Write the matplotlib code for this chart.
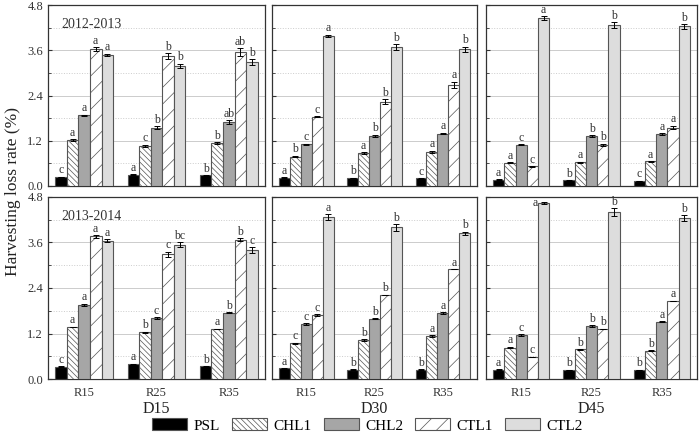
import numpy as np
import matplotlib.pyplot as plt
from matplotlib.ticker import MultipleLocator
from matplotlib.patches import Patch

plt.rcParams['font.family'] = ['Liberation Serif', 'DejaVu Serif']
plt.rcParams['hatch.linewidth'] = 0.5
plt.rcParams['hatch.color'] = '#444444'

groups = ['R15', 'R25', 'R35']
treatments = ['PSL', 'CHL1', 'CHL2', 'CTL1', 'CTL2']
dates = ['D15', 'D30', 'D45']
seasons = ['2012-2013', '2013-2014']
yticks = [0.0, 1.2, 2.4, 3.6, 4.8]

# rows: R15, R25, R35 ; columns: PSL, CHL1, CHL2, CTL1, CTL2
y12_d15 = [[0.24, 1.22, 1.87, 3.63, 3.48], [0.30, 1.07, 1.54, 3.45, 3.18], [0.28, 1.14, 1.70, 3.55, 3.29]]
y12_d30 = [[0.22, 0.78, 1.11, 1.84, 3.98], [0.21, 0.87, 1.33, 2.24, 3.68], [0.20, 0.91, 1.39, 2.69, 3.62]]
y12_d45 = [[0.17, 0.62, 1.10, 0.52, 4.46], [0.15, 0.63, 1.32, 1.09, 4.27], [0.13, 0.65, 1.38, 1.55, 4.23]]
y13_d15 = [[0.32, 1.37, 1.96, 3.76, 3.64], [0.39, 1.23, 1.60, 3.29, 3.54], [0.33, 1.32, 1.75, 3.67, 3.40]]
y13_d30 = [[0.28, 0.94, 1.45, 1.68, 4.27], [0.25, 1.03, 1.59, 2.22, 4.00], [0.25, 1.14, 1.74, 2.90, 3.84]]
y13_d45 = [[0.25, 0.83, 1.16, 0.59, 4.64], [0.24, 0.78, 1.40, 1.33, 4.40], [0.24, 0.75, 1.51, 2.06, 4.24]]

y12_d15_err = [[0.01, 0.02, 0.02, 0.05, 0.03], [0.01, 0.03, 0.04, 0.07, 0.06], [0.01, 0.03, 0.05, 0.10, 0.07]]
y12_d30_err = [[0.01, 0.02, 0.01, 0.01, 0.03], [0.01, 0.03, 0.03, 0.06, 0.08], [0.01, 0.03, 0.02, 0.08, 0.07]]
y12_d45_err = [[0.01, 0.01, 0.01, 0.01, 0.05], [0.01, 0.01, 0.02, 0.03, 0.08], [0.01, 0.01, 0.02, 0.05, 0.06]]
y13_d15_err = [[0.01, 0.01, 0.03, 0.03, 0.04], [0.01, 0.02, 0.03, 0.07, 0.06], [0.01, 0.01, 0.01, 0.04, 0.08]]
y13_d30_err = [[0.01, 0.02, 0.02, 0.03, 0.07], [0.01, 0.02, 0.02, 0.00, 0.09], [0.01, 0.02, 0.02, 0.00, 0.05]]
y13_d45_err = [[0.01, 0.02, 0.02, 0.00, 0.03], [0.01, 0.01, 0.02, 0.00, 0.10], [0.01, 0.01, 0.01, 0.01, 0.08]]

y12_d15_sig = [['c', 'a', 'a', 'a', 'a'], ['a', 'c', 'b', 'b', 'b'], ['b', 'b', 'ab', 'ab', 'b']]
y12_d30_sig = [['a', 'b', 'c', 'c', 'a'], ['b', 'a', 'b', 'b', 'b'], ['c', 'a', 'a', 'a', 'b']]
y12_d45_sig = [['a', 'a', 'c', 'c', 'a'], ['b', 'a', 'b', 'b', 'b'], ['c', 'a', 'a', 'a', 'b']]
y13_d15_sig = [['c', 'a', 'a', 'a', 'a'], ['a', 'b', 'c', 'c', 'bc'], ['b', 'a', 'b', 'b', 'c']]
y13_d30_sig = [['a', 'c', 'c', 'c', 'a'], ['b', 'b', 'b', 'b', 'b'], ['b', 'a', 'a', 'a', 'b']]
y13_d45_sig = [['a', 'a', 'c', 'c', 'a'], ['b', 'b', 'b', 'b', 'b'], ['b', 'b', 'a', 'a', 'b']]

values = [[y12_d15, y12_d30, y12_d45], [y13_d15, y13_d30, y13_d45]]
errors = [[y12_d15_err, y12_d30_err, y12_d45_err], [y13_d15_err, y13_d30_err, y13_d45_err]]
letters = [[y12_d15_sig, y12_d30_sig, y12_d45_sig], [y13_d15_sig, y13_d30_sig, y13_d45_sig]]

colors = ['#000000', 'white', '#a6a6a6', 'white', '#dddddd']
hatches = [None, '\\\\\\\\\\\\', None, '//', None]
edge = '#555555'

fig = plt.figure(figsize=(7, 4.41), dpi=100)
xs = [(48, 217), (272, 205), (486, 211)]
ys = [(5, 181), (197, 182)]
W, H = 700, 441

width = 0.16
x = np.arange(len(groups))
for r in range(2):
    for c in range(3):
        x0, w = xs[c]
        y0, h = ys[r]
        ax = fig.add_axes([x0 / W, 1 - (y0 + h) / H, w / W, h / H])
        vals = np.array(values[r][c])
        errs = np.array(errors[r][c])
        for k in range(len(treatments)):
            pos = x + (k - 2) * width
            ax.bar(pos, vals[:, k], width, color=colors[k], hatch=hatches[k],
                   edgecolor=edge, linewidth=0.8, zorder=3)
            ax.errorbar(pos, vals[:, k], yerr=errs[:, k], fmt='none', ecolor='black',
                        elinewidth=0.7, capsize=2.5, capthick=0.7, zorder=4)
            for g in range(len(groups)):
                top = vals[g, k] + errs[g, k]
                lab = letters[r][c][g][k]
                if top + 0.2 > 4.8:
                    ax.text(pos[g] - width / 2 - 0.005, vals[g, k], lab, ha='right',
                            va='center', fontsize=8.5, color='#333333', zorder=5)
                else:
                    ax.text(pos[g], top + 0.01, lab, ha='center', va='bottom',
                            fontsize=8.5, color='#333333', zorder=5)
        ax.set_xlim(-0.5, 2.5)
        ax.set_ylim(0, 4.8)
        ax.set_yticks(yticks)
        ax.yaxis.set_minor_locator(MultipleLocator(0.6))
        ax.grid(axis='y', which='major', color='#cccccc', linewidth=0.7, zorder=0)
        ax.grid(axis='y', which='minor', color='#cccccc', linewidth=0.7,
                linestyle=':', zorder=0)
        ax.set_xticks(x)
        ax.tick_params(axis='both', which='both', direction='in', length=3,
                       color='#333333', labelsize=9, labelcolor='#333333')
        ax.tick_params(axis='x', pad=6)
        ax.tick_params(axis='y', which='minor', length=2)
        if c == 0:
            ax.set_yticklabels(['%.1f' % t for t in yticks])
            ax.text(0.06, 0.93, seasons[r], transform=ax.transAxes, ha='left',
                    va='top', fontsize=10, color='#333333')
        else:
            ax.set_yticklabels([])
        if r == 1:
            ax.set_xticklabels(groups)
            ax.set_xlabel(dates[c], fontsize=11.5, color='#222222', labelpad=1)
        else:
            ax.set_xticklabels([])
        for s in ax.spines.values():
            s.set_color('#333333')
            s.set_linewidth(0.9)

fig.text(0.018, 0.565, 'Harvesting loss rate (%)', rotation=90, ha='center',
         va='center', fontsize=12.5, color='#222222')

handles = [Patch(facecolor=colors[k], hatch=hatches[k], edgecolor=edge, linewidth=0.8,
                 label=treatments[k]) for k in range(len(treatments))]
fig.legend(handles=handles, ncol=5, loc='lower center', bbox_to_anchor=(0.525, -0.012),
           frameon=False, fontsize=11, handlelength=2.3, handleheight=0.8,
           columnspacing=0.8, handletextpad=0.4)

fig.savefig('out.png', dpi=100)
